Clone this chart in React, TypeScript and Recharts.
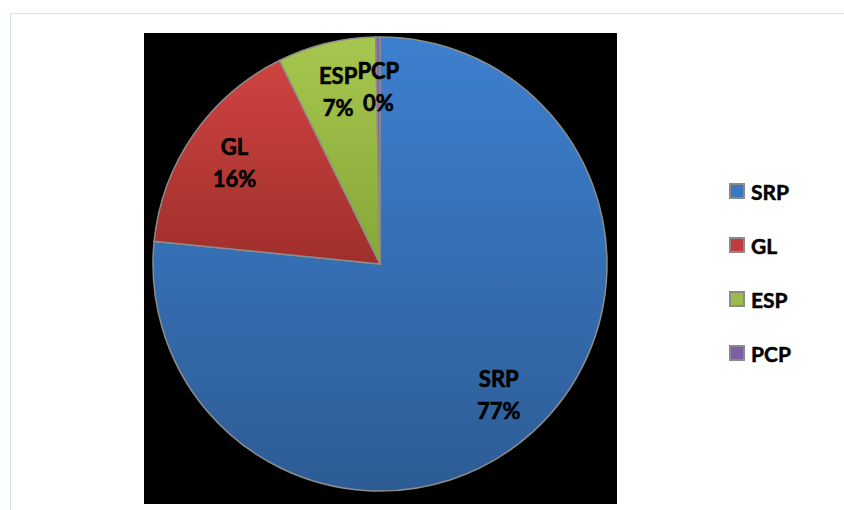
import React from "react";
import { Cell, Legend, Pie, PieChart } from "recharts";

const categories = ["SRP", "GL", "ESP", "PCP"];
const shares = [76.6, 16.1, 7.0, 0.3];
const colors = ["#3a78c2", "#c43c39", "#9abb48", "#7c5fa6"];
const gradients = [
  ["#3d80cf", "#2d5c95"],
  ["#cf4340", "#9f2f2b"],
  ["#a6c74e", "#86a638"],
  ["#8565b0", "#6f5296"]
];

const data = categories.map((name, i) => ({ name, value: shares[i] }));

const RADIAN = Math.PI / 180;
const FONT = "Lato, 'Open Sans', sans-serif";

function renderLabel(props: any) {
  const { cx, cy, midAngle, outerRadius, percent, name } = props;
  const r = outerRadius * 0.78;
  const x = cx + r * Math.cos(-midAngle * RADIAN);
  const y = cy + r * Math.sin(-midAngle * RADIAN);
  return (
    <text
      x={x}
      y={y}
      textAnchor="middle"
      fill="#000"
      stroke="#000"
      strokeWidth={0.6}
      fontFamily={FONT}
      fontWeight={700}
      fontSize={22}
    >
      <tspan x={x} dy={-8}>{name}</tspan>
      <tspan x={x} dy={32}>{`${Math.round(percent * 100)}%`}</tspan>
    </text>
  );
}

// legend keeps the slice order (Recharts sorts the payload by name)
function renderLegend() {
  return (
    <div style={{ fontFamily: FONT }}>
      {categories.map((name, i) => (
        <div key={name} style={{ display: "flex", alignItems: "center", height: 54 }}>
          <span
            style={{
              width: 12,
              height: 12,
              background: colors[i],
              border: "2px solid #8a8a8a",
              marginRight: 6
            }}
          />
          <span style={{ fontSize: 21, fontWeight: 700, color: "#000", WebkitTextStroke: "0.5px #000" }}>{name}</span>
        </div>
      ))}
    </div>
  );
}

export default function App() {
  return (
    <div style={{ position: "absolute", left: 0, top: 0, width: 844, height: 510, background: "#fff", overflow: "hidden" }}>
      <svg width={0} height={0} style={{ position: "absolute" }}>
        <defs>
          {gradients.map((g, i) => (
            <linearGradient key={i} id={`grad${i}`} x1="0" y1="0" x2="0" y2="1">
              <stop offset="0%" stopColor={g[0]} />
              <stop offset="100%" stopColor={g[1]} />
            </linearGradient>
          ))}
        </defs>
      </svg>
      <div style={{ position: "absolute", left: 10, top: 13, width: 900, height: 600, border: "1px solid #d4e2f1" }} />
      <div style={{ position: "absolute", left: 144, top: 33, width: 473, height: 471, background: "#000" }} />
      <div style={{ position: "absolute", left: 0, top: 0 }}>
        <PieChart width={844} height={510} margin={{ top: 0, right: 0, bottom: 0, left: 0 }}>
          <Pie
            data={data}
            dataKey="value"
            nameKey="name"
            cx={380}
            cy={264}
            outerRadius={227}
            startAngle={90}
            endAngle={-270}
            stroke="#8c8c8c"
            strokeWidth={1.5}
            label={renderLabel}
            labelLine={false}
            isAnimationActive={false}
          >
            {data.map((_, i) => (
              <Cell key={i} fill={`url(#grad${i})`} />
            ))}
          </Pie>
          <Legend
            layout="vertical"
            verticalAlign="top"
            align="right"
            content={renderLegend}
            wrapperStyle={{ position: "absolute", left: 729, top: 164, width: 110 }}
          />
        </PieChart>
      </div>
    </div>
  );
}
